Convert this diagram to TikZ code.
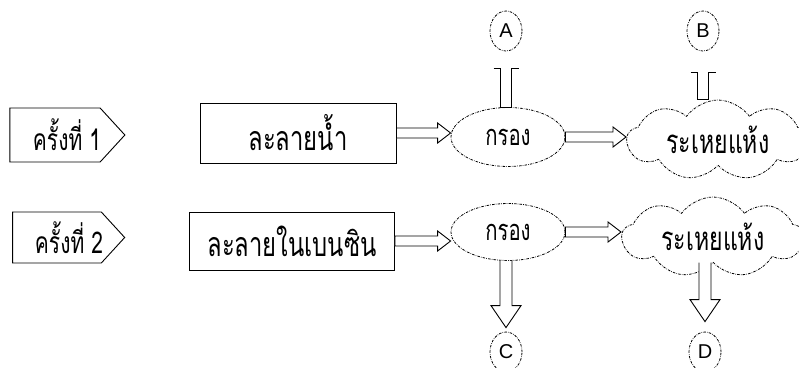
\documentclass[tikz,border=0pt]{standalone}
\usepackage{fontspec}
\setmainfont{Liberation Sans}
\newfontfamily\thaifont[Script=Thai, FakeStretch=0.7]{Loma}
\usetikzlibrary{positioning, shapes.geometric, shapes.symbols, calc}

% hollow block arrows between nodes
\newcommand{\fatright}[2]{%
  \draw[fatline] ($(#1)+(0,-5)$) -- ($(#2)+(-13,-5)$) -- ($(#2)+(-13,-10)$) -- (#2)
    -- ($(#2)+(-13,10)$) -- ($(#2)+(-13,5)$) -- ($(#1)+(0,5)$) -- cycle;}
\newcommand{\fatdown}[2]{%
  \draw[fatline] ($(#1)+(-6,0)$) -- ($(#2)+(-6,-22)$) -- ($(#2)+(-15,-22)$) -- (#2)
    -- ($(#2)+(15,-22)$) -- ($(#2)+(6,-22)$) -- ($(#1)+(6,0)$);}
\newcommand{\stemdown}[2]{%
  \draw[fatline, fill=none] ($(#1)+(-12.5,0)$) -- ($(#1)+(-5.5,0)$) -- ($(#2)+(-5.5,0)$)
    -- ($(#2)+(5.5,0)$) -- ($(#1)+(5.5,0)$) -- ($(#1)+(12.5,0)$);}

\begin{document}
\begin{tikzpicture}[
  x=1pt, y=-1pt,
  every node/.style={font=\thaifont\fontsize{34}{34}\selectfont},
  tagbox/.style={
    draw, line width=0.9pt, signal, signal to=east, signal pointer angle=95,
    minimum width=115pt, minimum height=54pt, inner sep=0pt
  },
  tagtext/.style={font=\thaifont\fontsize{30}{30}\selectfont},
  stepbox/.style={draw, line width=0.9pt, minimum height=60pt},
  dotline/.style={draw, line width=0.8pt, dash pattern=on 2.5pt off 1.2pt on 0.6pt off 1.2pt},
  filterbox/.style={
    dotline, ellipse, minimum width=114pt, minimum height=59pt, inner sep=0pt,
    font=\thaifont\fontsize{29}{29}\selectfont
  },
  drybox/.style={
    dotline, cloud, cloud puffs=9, cloud puff arc=110, cloud ignores aspect,
    minimum width=182pt, minimum height=80pt, inner sep=0pt,
    font=\thaifont\fontsize{33}{33}\selectfont
  },
  sample/.style={
    dotline, ellipse, minimum width=32pt, minimum height=40pt, inner sep=0pt,
    font=\fontsize{20}{20}\selectfont
  },
  fatline/.style={draw, line width=0.9pt, fill=white}
]
\path[fill=white, use as bounding box] (0,0) rectangle (799,367);

% first run
\node[tagbox, label={[tagtext, xshift=12pt]center:ครั้งที่ 1}] (tag1) at (55,135) {};
\node[stepbox, minimum width=196pt] (melt1) at (298,133) {ละลายน้ำ\hspace{30pt}};
\node[filterbox] (filt1) at (508,137) {กรอง};
\node[drybox] (dry1) at (718,140) {ระเหยแห้ง\hspace{18pt}};
\node[sample] (sA) at (506,31) {A};
\node[sample] (sB) at (703,31) {B};

% second run
\node[tagbox, minimum width=112pt, minimum height=51pt,
  label={[tagtext, xshift=12pt]center:ครั้งที่ 2}] (tag2) at (57,237.5) {};
\node[stepbox, minimum width=205pt, minimum height=58pt] (melt2) at (292,241) {ละลายในเบนซิน\hspace{9pt}};
\node[filterbox, minimum height=57pt] (filt2) at (508,232) {กรอง};
\node[drybox] (dry2) at (713,237) {ระเหยแห้ง\hspace{12pt}};
\node[sample] (sC) at (506,352) {C};
\node[sample] (sD) at (705,352) {D};

% connectors
\fatright{melt1.east}{melt1.east -| filt1.west}
\fatright{filt1.east}{filt1.east -| dry1.west}
\fatright{melt2.east}{melt2.east -| filt2.west}
\fatright{filt2.east}{filt2.east -| dry2.west}
\stemdown{$(sA.south)+(0,17)$}{filt1.north -| sA}
\stemdown{$(sB.south)+(0,21)$}{dry1.north -| sB}
\fatdown{filt2.south -| sC}{$(sC.north)+(0,-4)$}
\fatdown{dry2.south -| sD}{$(sD.north)+(0,-10)$}

\end{tikzpicture}
\end{document}
